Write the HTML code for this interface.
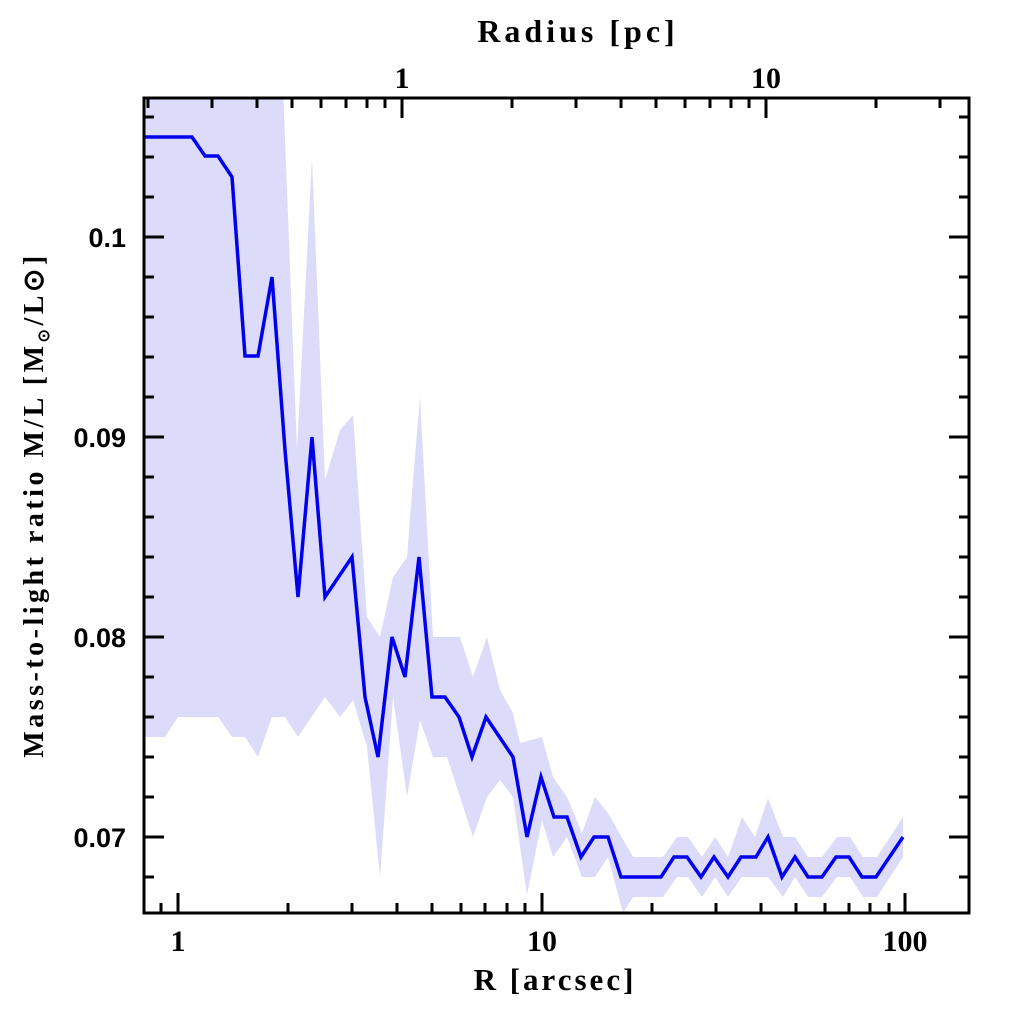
<!DOCTYPE html>
<html><head><meta charset="utf-8"><style>html,body{margin:0;padding:0;background:#fff}svg{display:block}</style></head>
<body>
<svg width="1024" height="1024" viewBox="0 0 1024 1024" xmlns="http://www.w3.org/2000/svg">
<defs><clipPath id="c"><rect x="144" y="98" width="825" height="815"/></clipPath></defs>
<g clip-path="url(#c)">
<polygon fill="#dcdcfa" points="145,60 282,60 297,450 312,157 325,480 340,430 353,415 367,617 380,637 393,577 407,557 413,480 420,397 433,637 460,637 473,677 487,637 500,690 513,713 527,773 520,743 542,737 553,777 567,797 582,833 595,797 608,813 633,857 663,857 677,837 688,837 702,857 715,837 728,857 742,817 755,837 768,798 783,837 795,837 808,857 822,857 837,837 850,837 863,857 877,857 903,817 903,857 877,897 863,897 850,877 837,877 822,897 808,897 795,877 783,897 768,877 742,877 728,897 715,877 702,897 688,877 677,877 663,897 633,897 623,913 608,857 595,877 582,877 567,837 553,857 542,820 527,895 513,797 500,780 487,797 473,837 460,797 447,757 433,757 420,720 407,797 393,697 380,877 367,747 353,700 340,717 325,697 298,737 285,717 272,717 258,757 245,737 232,737 218,717 178,717 165,737 145,737"/>
<polyline fill="none" stroke="#0000ee" stroke-width="3.5" stroke-linejoin="miter" points="145,137 192,137 205,156 218,156 232,177 245,356 258,356 272,277 285,450 298,597 312,437 325,597 352,557 365,697 378,757 392,637 405,677 419,557 432,697 445,697 459,717 472,757 486,717 513,757 527,837 541,777 554,817 567,817 581,857 594,837 608,837 621,877 661,877 674,857 687,857 701,877 714,857 728,877 741,857 756,857 768,837 782,877 795,857 808,877 822,877 836,857 849,857 862,877 876,877 903,837"/>
</g>
<g stroke="#000" stroke-width="3" fill="none">
<rect x="144" y="98" width="825" height="815"/>
<path d="M144,237h20M144,437h20M144,637h20M144,837h20M969,237h-20M969,437h-20M969,637h-20M969,837h-20
M144,117h10M144,157h10M144,197h10M144,277h10M144,317h10M144,357h10M144,397h10M144,477h10M144,517h10M144,557h10M144,597h10M144,677h10M144,717h10M144,757h10M144,797h10M144,877h10
M969,117h-10M969,157h-10M969,197h-10M969,277h-10M969,317h-10M969,357h-10M969,397h-10M969,477h-10M969,517h-10M969,557h-10M969,597h-10M969,677h-10M969,717h-10M969,757h-10M969,797h-10M969,877h-10
M178,913v-20M542,913v-20M905,913v-20
M161,913v-10M288,913v-10M352,913v-10M397,913v-10M432,913v-10M461,913v-10M485,913v-10M507,913v-10M525,913v-10M652,913v-10M716,913v-10M761,913v-10M796,913v-10M825,913v-10M849,913v-10M870,913v-10M889,913v-10
M402,98v20M766,98v20
M148,98v10M212,98v10M257,98v10M292,98v10M321,98v10M346,98v10M367,98v10M385,98v10M512,98v10M576,98v10M621,98v10M656,98v10M685,98v10M710,98v10M731,98v10M749,98v10M876,98v10M940,98v10"/>
</g>
<g font-family="Liberation Sans, sans-serif" font-weight="bold" font-size="27" fill="#000">
<text x="126" y="247" text-anchor="end">0.1</text>
<text x="126" y="447" text-anchor="end">0.09</text>
<text x="126" y="647" text-anchor="end">0.08</text>
<text x="126" y="847" text-anchor="end">0.07</text>
</g>
<g font-family="Liberation Serif, serif" font-weight="bold" font-size="30" fill="#000">
<text x="178" y="951" text-anchor="middle">1</text>
<text x="542" y="951" text-anchor="middle">10</text>
<text x="905" y="951" text-anchor="middle">100</text>
<text x="402" y="88" text-anchor="middle">1</text>
<text x="766" y="88" text-anchor="middle">10</text>
<text x="555" y="990" text-anchor="middle" font-size="31" letter-spacing="3">R [arcsec]</text>
<text x="578" y="42" text-anchor="middle" font-size="32" letter-spacing="4">Radius [pc]</text>
<text transform="translate(43,505) rotate(-90)" text-anchor="middle" font-size="28" letter-spacing="3.5">Mass-to-light ratio M/L [M<tspan font-size="16" dy="6">⊙</tspan><tspan dy="-6">/L⊙]</tspan></text>
</g>
</svg>
</body></html>
